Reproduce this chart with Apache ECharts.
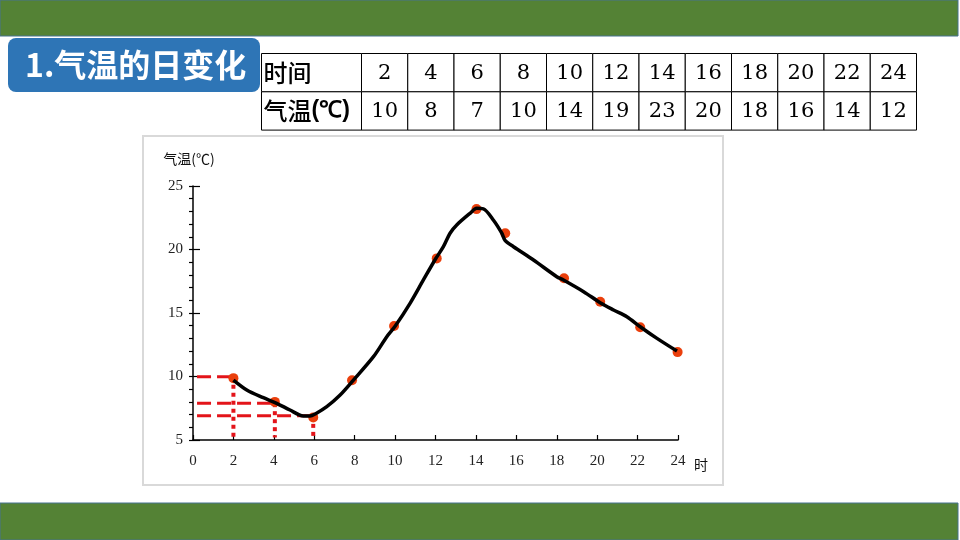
<!DOCTYPE html>
<html>
<head>
<meta charset="utf-8">
<script src="https://cdn.jsdelivr.net/npm/echarts@6/dist/echarts.min.js"></script>
<style>
  html, body { margin: 0; padding: 0; background: #fff; }
  #chart { width: 960px; height: 540px; }
</style>
</head>
<body>
<div id="chart"></div>
<script>
// table at the top of the slide
const tableHours = ['2', '4', '6', '8', '10', '12', '14', '16', '18', '20', '22', '24'];
const tableTemps = ['10', '8', '7', '10', '14', '19', '23', '20', '18', '16', '14', '12'];

// red dots as drawn in the chart (hour, °C)
const dotX = [2, 4.05, 5.95, 7.87, 9.95, 12.06, 14.03, 15.45, 18.36, 20.15, 22.13, 23.98];
const dotY = [9.87, 8.0, 6.78, 9.7, 13.98, 19.3, 23.18, 21.28, 17.74, 15.88, 13.88, 11.92];

// hand drawn black curve
const curveX = [2.0, 2.66, 3.48, 4.14, 4.8, 5.46, 5.79, 6.05, 6.62, 7.28, 7.94, 8.93, 9.59, 10.0, 10.74, 11.4, 12.0, 12.39, 12.72, 13.05, 13.71, 14.04, 14.37, 14.87, 15.28, 15.45, 15.86, 16.85, 18.0, 18.33, 19.33, 20.15, 20.81, 21.47, 22.13, 22.96, 23.95];
const curveY = [9.72, 8.94, 8.33, 7.89, 7.36, 6.89, 6.89, 7.05, 7.62, 8.54, 9.72, 11.56, 13.13, 13.95, 15.76, 17.6, 19.25, 20.22, 21.28, 21.93, 22.85, 23.24, 23.2, 22.3, 21.28, 20.7, 20.22, 19.17, 17.86, 17.6, 16.68, 15.81, 15.24, 14.71, 13.92, 13.0, 12.0];

// red guide lines to the first three readings
const guideX = [2, 4.05, 5.95];
const guideY = [9.98, 7.9, 6.9];

const chart = echarts.init(document.getElementById('chart'));

// slide decoration + data table
const graphics = [
  { type: 'rect', shape: { x: 0, y: 0, width: 958, height: 36 }, style: { fill: '#548235', stroke: '#46728f', lineWidth: 1 } },
  { type: 'rect', shape: { x: 0, y: 503, width: 958, height: 37 }, style: { fill: '#548235', stroke: '#46728f', lineWidth: 1 } },
  { type: 'rect', shape: { x: 8, y: 38, width: 252, height: 54, r: 8 }, style: { fill: '#2e75b6' } },
  { type: 'text', style: { text: '1.气温的日变化', x: 25, y: 65, verticalAlign: 'middle', font: 'bold 32px "Noto Sans CJK SC"', fill: '#fff' } },
  { type: 'rect', shape: { x: 143, y: 136, width: 580, height: 349 }, style: { fill: 'transparent', stroke: '#d9d9d9', lineWidth: 2 } }
];

const tblLeft = 261.5, tblTop = 53.5, firstW = 100, cellW = 46.25, rowH = 38.3;
const rows = [
  { head: '时间', head2: '', cells: tableHours },
  { head: '气温', head2: '(℃)', cells: tableTemps }
];
rows.forEach((row, r) => {
  const y = tblTop + r * rowH;
  graphics.push({ type: 'rect', shape: { x: tblLeft, y: y, width: firstW, height: rowH }, style: { fill: '#fff', stroke: '#000', lineWidth: 1 } });
  graphics.push({
    type: 'text',
    style: {
      text: '{a|' + row.head + '}' + (row.head2 ? '{b|' + row.head2 + '}' : ''),
      x: tblLeft + 2, y: y + rowH / 2, verticalAlign: 'middle',
      rich: {
        a: { font: '500 24px "Noto Sans CJK SC"', fill: '#000' },
        b: { font: 'bold 23px "Liberation Sans"', fill: '#000' }
      }
    }
  });
  row.cells.forEach((c, i) => {
    const x = tblLeft + firstW + i * cellW;
    graphics.push({ type: 'rect', shape: { x: x, y: y, width: cellW, height: rowH }, style: { fill: '#fff', stroke: '#000', lineWidth: 1 } });
    graphics.push({ type: 'text', style: { text: c, x: x + cellW / 2, y: y + rowH / 2 + 1, align: 'center', verticalAlign: 'middle', font: '21px "DejaVu Serif"', fill: '#000' } });
  });
});

const series = [];

// guide lines
guideX.forEach((gx, i) => {
  const gy = guideY[i];
  series.push({
    type: 'line', silent: true, symbol: 'none', z: 1,
    data: [[0.2, gy], [gx, gy]],
    lineStyle: { color: '#e3141a', width: 3, type: [14, 6] }
  });
  series.push({
    type: 'line', silent: true, symbol: 'none', z: 1,
    data: [[gx, gy], [gx, 5.2]],
    lineStyle: { color: '#e3141a', width: 4, type: [4, 4] }
  });
});

series.push({
  type: 'scatter', z: 2,
  data: dotX.map((x, i) => [x, dotY[i]]),
  symbolSize: 10,
  itemStyle: { color: '#ea3f0c', opacity: 1 }
});

series.push({
  type: 'line', z: 3,
  data: curveX.map((x, i) => [x, curveY[i]]),
  smooth: 0.3,
  showSymbol: false,
  lineStyle: { color: '#000', width: 3.5 }
});

const labelFont = { fontFamily: 'Liberation Serif', fontSize: 15, color: '#222' };

const option = {
  animation: false,
  backgroundColor: '#fff',
  graphic: graphics,
  grid: { left: 193, top: 186, right: 282, bottom: 100 },
  xAxis: {
    type: 'value', min: 0, max: 24, interval: 2,
    name: '时', nameLocation: 'end', nameGap: 16,
    nameTextStyle: { fontFamily: 'Noto Sans CJK SC', fontSize: 14, color: '#111', verticalAlign: 'top', padding: [18, 0, 0, 0] },
    axisLine: { lineStyle: { color: '#000', width: 1.5 } },
    axisTick: { inside: true, length: 5, lineStyle: { color: '#000', width: 1.2 } },
    axisLabel: Object.assign({ margin: 14 }, labelFont),
    splitLine: { show: false }
  },
  yAxis: [
    {
      type: 'value', min: 5, max: 25, interval: 5,
      name: '气温(℃)', nameLocation: 'end', nameGap: 20,
      nameTextStyle: { fontFamily: 'Noto Sans CJK SC', fontSize: 14, color: '#111', align: 'center', padding: [0, 8, 0, 0] },
      axisLine: { show: true, lineStyle: { color: '#000', width: 1.5 } },
      axisTick: { show: true, inside: false, length: 4, lineStyle: { color: '#000', width: 1.2 } },
      minorTick: { show: true, splitNumber: 5, length: 4, lineStyle: { color: '#000', width: 1.2 } },
      axisLabel: Object.assign({ margin: 10 }, labelFont),
      splitLine: { show: false }
    },
    {
      type: 'value', min: 5, max: 25, interval: 5, position: 'left',
      axisLine: { show: false },
      axisTick: { show: true, inside: true, length: 7, lineStyle: { color: '#000', width: 1.2 } },
      axisLabel: { show: false },
      splitLine: { show: false }
    }
  ],
  series: series
};

chart.setOption(option);
</script>
</body>
</html>
